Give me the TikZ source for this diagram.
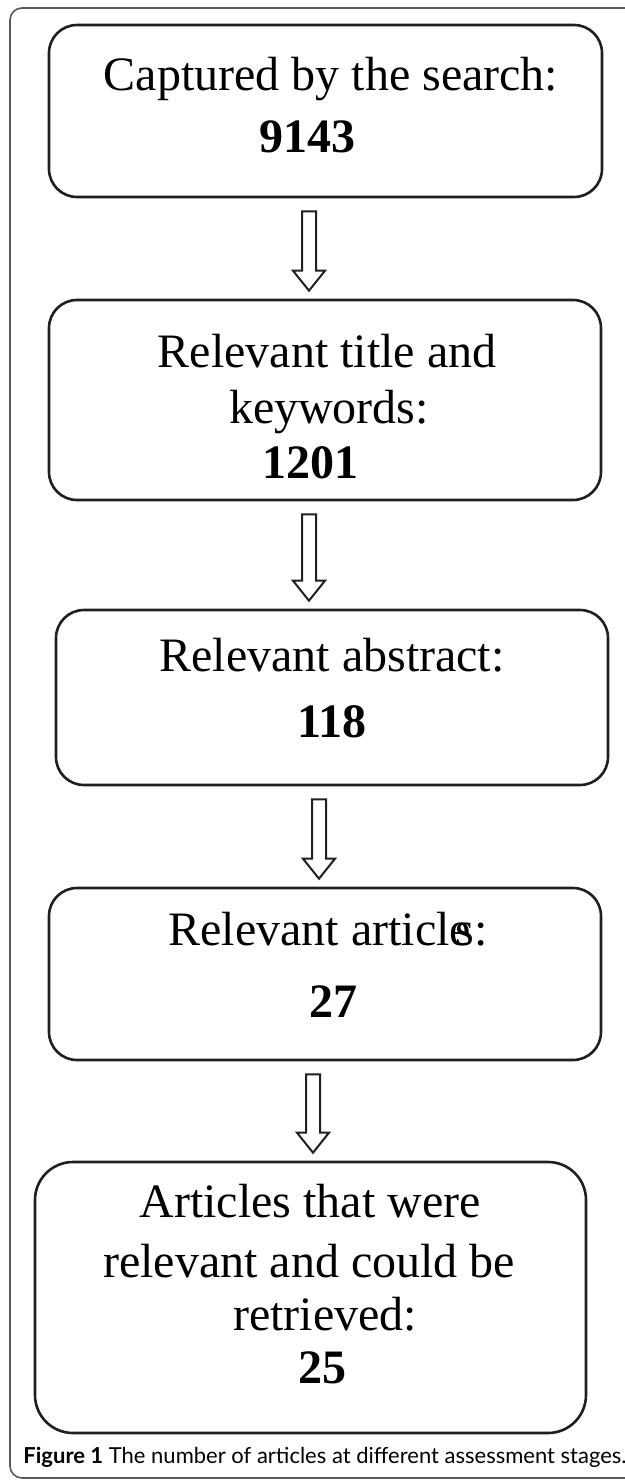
\documentclass[tikz,border=0pt]{standalone}
\usepackage{fontspec}
\setmainfont{Liberation Serif}
\newfontfamily\capfont{Lato}
\usetikzlibrary{calc}

% hollow block arrow from one stage to the next, at column #3
\newcommand\hollowarrow[3]{%
  \coordinate (ax) at (#3,0);
  \coordinate (atop) at ($(ax |- #1.south)+(0,13)$);
  \coordinate (atip) at ($(ax |- #2.north)+(0,-8)$);
  \draw[arrowline] ($(atop)+(-7,0)$) -- ($(atip)+(-7,-20)$) -- ($(atip)+(-16,-20)$)
    -- (atip) -- ($(atip)+(16,-20)$) -- ($(atip)+(7,-20)$) -- ($(atop)+(7,0)$) -- cycle;
}

\begin{document}
\begin{tikzpicture}[
  x=0.5pt, y=-0.5pt,
  stage/.style={draw=black!88, line width=1.3pt, rounded corners=14pt, inner sep=0pt},
  txt/.style={inner sep=0pt, anchor=base, font=\fontsize{24}{28}\selectfont},
  num/.style={txt, font=\fontsize{24}{28}\selectfont\bfseries},
  arrowline/.style={draw=black!88, line width=1pt, line join=miter},
  frame/.style={draw=black!65, line width=0.8pt, rounded corners=6pt}
  ]
  \useasboundingbox (0,0) rectangle (625,1481);
  \draw[frame] (700,8) -- (10,8) -- (10,1478) -- (700,1478);

  % stages
  \node[stage, minimum width=276.5pt, minimum height=86pt] (b1) at (325.5,111) {};
  \node[stage, minimum width=276pt, minimum height=100pt] (b2) at (325,400) {};
  \node[stage, minimum width=276pt, minimum height=87.5pt] (b3) at (332,697.5) {};
  \node[stage, minimum width=276pt, minimum height=86pt] (b4) at (325,974) {};
  \node[stage, minimum width=275.5pt, minimum height=135.5pt, rounded corners=19pt] (b5) at (310.5,1297.5) {};

  % texts
  \node[txt] (t1) at (331,91) {Captured by the search:};
  \node[num] (n1) at (307,153) {9143};
  \node[txt] (t2a) at (327,367) {Relevant title and};
  \node[txt] (t2b) at (329,423) {keywords:};
  \node[num] (n2) at (310,478) {1201};
  \node[txt] (t3) at (332,671) {Relevant abstract:};
  \node[num] (n3) at (332,737) {118};
  \node[txt] (t4) at (328,945) {Relevant articl\rlap{e}\kern0.12em s:};
  \node[num] (n4) at (333,1017) {27};
  \node[txt] (t5a) at (310,1217) {Articles that were};
  \node[txt] (t5b) at (309,1277) {relevant and could be};
  \node[txt] (t5c) at (325,1330) {retrieved:};
  \node[num] (n5) at (322,1383) {25};

  % arrows
  \hollowarrow{b1}{b2}{309}
  \hollowarrow{b2}{b3}{309}
  \hollowarrow{b3}{b4}{319}
  \hollowarrow{b4}{b5}{313}

  % caption
  \node[inner sep=0pt, anchor=base, font=\capfont\fontsize{11}{13}\selectfont] (cap) at (325,1463)
    {\textbf{Figure 1} The number of articles at different assessment stages.};
\end{tikzpicture}
\end{document}
